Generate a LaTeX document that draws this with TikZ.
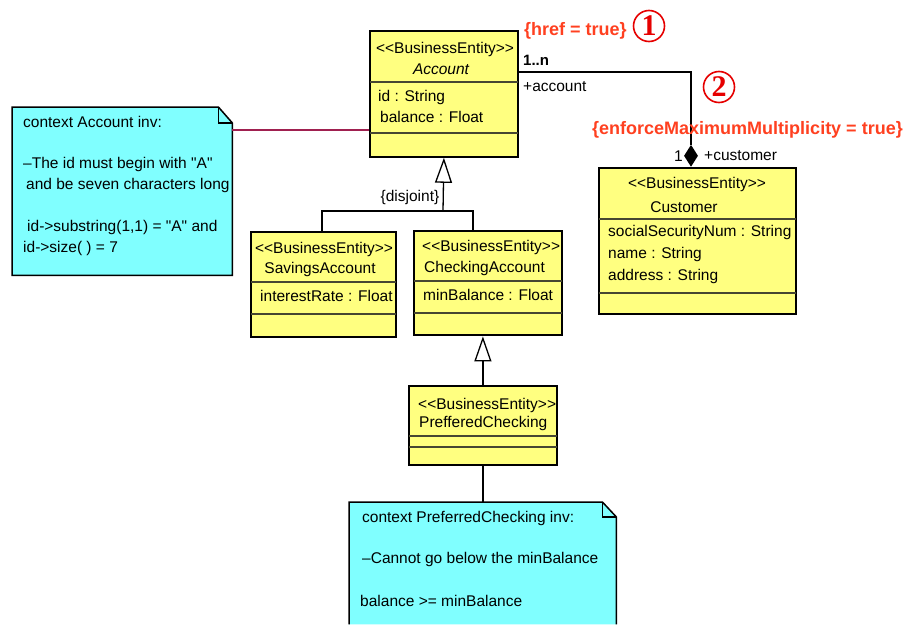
\documentclass[tikz,border=0pt]{standalone}
\usepackage{fontspec}
\newfontfamily\uml{Liberation Sans}
\newfontfamily\umlserif{Liberation Serif}
\usetikzlibrary{arrows.meta,calc,shapes.geometric}
\definecolor{umlyellow}{RGB}{255,255,128}
\definecolor{notecyan}{RGB}{128,255,255}
\definecolor{tagred}{RGB}{255,64,32}
\definecolor{circred}{RGB}{230,0,0}
\definecolor{linkmaroon}{RGB}{160,32,80}
\definecolor{sepgray}{RGB}{70,70,50}
\begin{document}
\begin{tikzpicture}[x=1pt,y=-1pt,
  every node/.style={font=\uml\fontsize{15.5}{19}\selectfont, inner sep=0pt},
  classbox/.style={draw=black, line width=1.8pt, fill=umlyellow, rectangle, anchor=north west, inner sep=0pt},
  compline/.style={draw=sepgray, line width=1.2pt},
  txt/.style={anchor=west},
  link/.style={draw=black, line width=1.3pt},
  gen/.style={link, -{Triangle[fill=white, length=25pt, width=17pt]}},
  notebox/.style={rectangle, anchor=north west, inner sep=0pt},
  notefill/.style={fill=notecyan, draw=black, line width=1.5pt, line join=miter},
  tag/.style={anchor=west, text=tagred, font=\uml\bfseries\fontsize{18}{20}\selectfont},
  numcirc/.style={circle, draw=circred, line width=1.6pt, minimum size=31pt, text=circred, font=\umlserif\bfseries\fontsize{30}{30}\selectfont},
  boldlbl/.style={anchor=west, font=\uml\bfseries\fontsize{15}{18}\selectfont}
]
\useasboundingbox (0,0) rectangle (907,624);
\fill[white] (0,0) rectangle (907,624);

% ---------- Account ----------
\node[classbox, minimum width=148pt, minimum height=126pt] (account) at (369,30) {};
\draw[compline] ($(account.north west)+(0.9,52)$) -- ($(account.north east)+(-0.9,52)$);
\draw[compline] ($(account.north west)+(0.9,103)$) -- ($(account.north east)+(-0.9,103)$);
\node (accst) at (445,49) {<<BusinessEntity>>};
\node (accnm) at (441,69) {\itshape Account};
\node[txt] (acca1) at (378,97) {id : String};
\node[txt] (acca2) at (380,117) {balance : Float};

% ---------- SavingsAccount ----------
\node[classbox, minimum width=145pt, minimum height=105pt] (savings) at (250,231) {};
\draw[compline] ($(savings.north west)+(0.9,51)$) -- ($(savings.north east)+(-0.9,51)$);
\draw[compline] ($(savings.north west)+(0.9,83)$) -- ($(savings.north east)+(-0.9,83)$);
\node (savst) at (324,249) {<<BusinessEntity>>};
\node (savnm) at (320,269) {SavingsAccount};
\node[txt] (sava1) at (260,296) {interestRate : Float};

% ---------- CheckingAccount ----------
\node[classbox, line width=2.4pt, minimum width=148pt, minimum height=104pt] (checking) at (413,230) {};
\draw[compline] ($(checking.north west)+(1.2,51)$) -- ($(checking.north east)+(-1.2,51)$);
\draw[compline] ($(checking.north west)+(1.2,83)$) -- ($(checking.north east)+(-1.2,83)$);
\node[txt] (chkst) at (422,247) {<<BusinessEntity>>};
\node[txt] (chknm) at (424,268) {CheckingAccount};
\node[txt] (chka1) at (423,295) {minBalance : Float};

% ---------- PrefferedChecking ----------
\node[classbox, minimum width=148pt, minimum height=79pt] (pref) at (408,385) {};
\draw[compline] ($(pref.north west)+(0.9,51)$) -- ($(pref.north east)+(-0.9,51)$);
\draw[compline] ($(pref.north west)+(0.9,62)$) -- ($(pref.north east)+(-0.9,62)$);
\node[txt] (prefst) at (418,405) {<<BusinessEntity>>};
\node[txt] (prefnm) at (419,423) {PrefferedChecking};

% ---------- Customer ----------
\node[classbox, minimum width=197pt, minimum height=146pt] (customer) at (598,167) {};
\draw[compline] ($(customer.north west)+(0.9,52)$) -- ($(customer.north east)+(-0.9,52)$);
\draw[compline] ($(customer.north west)+(0.9,126)$) -- ($(customer.north east)+(-0.9,126)$);
\node (cusst) at (697,184) {<<BusinessEntity>>};
\node (cusnm) at (684,207) {Customer};
\node[txt] (cusa1) at (608,232) {socialSecurityNum : String};
\node[txt] (cusa2) at (608,254) {name : String};
\node[txt] (cusa3) at (608,276) {address : String};

% ---------- Note 1 ----------
\node[notebox, minimum width=220pt, minimum height=168pt] (note1) at (12,107) {};
\path[notefill] (note1.north west) -- ($(note1.north east)+(-14,0)$) -- ($(note1.north east)+(0,16)$)
  -- (note1.south east) -- (note1.south west) -- cycle;
\draw[line width=1.2pt] ($(note1.north east)+(-14,0)$) -- ($(note1.north east)+(-14,16)$) -- ($(note1.north east)+(0,16)$);
\node[txt] (n1t1) at (23,122) {context Account inv:};
\node[txt] (n1t2) at (23,164) {–The id must begin with "A"};
\node[txt] (n1t3) at (26,185) {and be seven characters long};
\node[txt] (n1t4) at (27,227) {id->substring(1,1) = "A" and};
\node[txt] (n1t5) at (23,248) {id->size( ) = 7};

% ---------- Note 2 ----------
\node[notebox, minimum width=267pt, minimum height=122pt] (note2) at (349,502) {};
\fill[notecyan] (note2.north west) -- ($(note2.north east)+(-14,0)$) -- ($(note2.north east)+(0,15)$)
  -- (note2.south east) -- (note2.south west) -- cycle;
\draw[line width=1.5pt, line join=miter] (note2.south west) -- (note2.north west) -- ($(note2.north east)+(-14,0)$)
  -- ($(note2.north east)+(0,15)$) -- (note2.south east);
\draw[line width=1.2pt] ($(note2.north east)+(-14,0)$) -- ($(note2.north east)+(-14,15)$) -- ($(note2.north east)+(0,15)$);
\node[txt] (n2t1) at (362,518) {context PreferredChecking inv:};
\node[txt] (n2t2) at (362,559) {–Cannot go below the minBalance};
\node[txt] (n2t3) at (360,601) {balance >= minBalance};

% ---------- Connectors ----------
\coordinate (y130) at (0,130);
\draw[draw=linkmaroon, line width=1.3pt] (note1.east |- y130) -- (account.west |- y130);

\coordinate (j) at (443,211);
\draw[link] ($(savings.north west)+(72,0)$) |- (j) -| ($(checking.north west)+(60,0)$);
\draw[gen] (j) -- (account.south);
\node (disj) at (410,197) {\{disjoint\}};

\draw[gen] (pref.north) -- (pref.north |- checking.south);
\draw[link] (pref.south) -- (pref.south |- note2.north);

\node[diamond, fill=black, minimum width=14pt, minimum height=22pt, inner sep=0pt, anchor=south] (diam) at (691,167) {};
\coordinate (y72) at (0,72);
\draw[link] (account.east |- y72) -| (diam.north);

% ---------- Labels ----------
\node[boldlbl] (mult1) at (523,60) {1..n};
\node[txt] (role1) at (523,87) {+account};
\node[anchor=east] (mult2) at (683,156) {1};
\node[txt] (role2) at (704,156) {+customer};
\node[tag] (href) at (524,31) {\{href = true\}};
\node[numcirc] (c1) at (649,26) {1};
\node[numcirc] (c2) at (719,87) {2};
\node[tag] (enf) at (592,130) {\{enforceMaximumMultiplicity = true\}};
\end{tikzpicture}
\end{document}
